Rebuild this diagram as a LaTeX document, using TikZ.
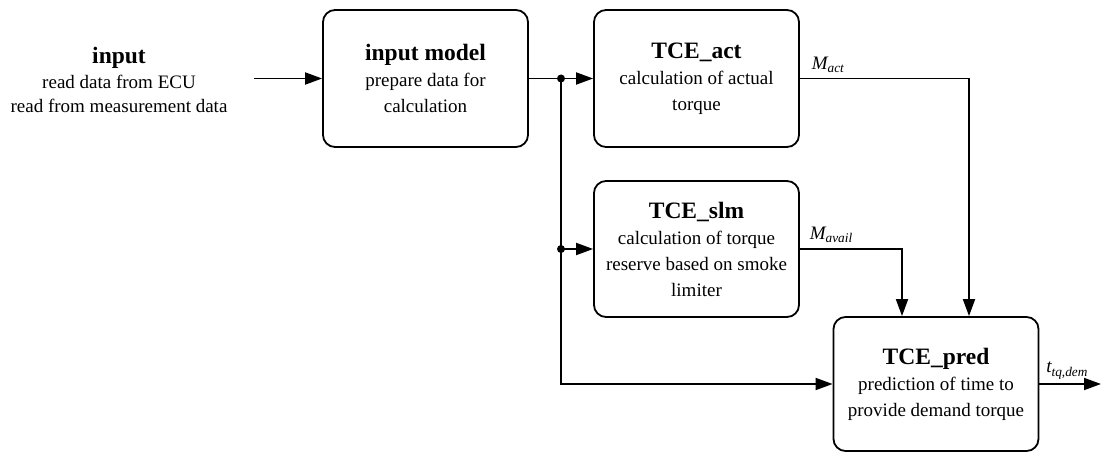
\documentclass[tikz,border=0pt]{standalone}
\usepackage{fontspec}
\setmainfont{Liberation Serif}
\usepackage{tikz}
\usetikzlibrary{arrows.meta,positioning}

\newcommand{\btitle}[1]{{\fontsize{23.5}{26}\selectfont\bfseries #1}}

\begin{document}
\begin{tikzpicture}[x=1pt,y=-1pt,line width=1.8pt,>={Triangle[length=17pt,width=12pt]}]
                \tikzstyle{block}=[draw, rounded corners=12pt, minimum width=205pt, minimum height=137pt, inner sep=0pt, align=center, font=\fontsize{19}{26}\selectfont]
                \tikzstyle{dot}=[circle, fill, inner sep=0pt, minimum size=8pt]
                \tikzstyle{sig}=[inner sep=0pt, font=\fontsize{19}{22}\selectfont\itshape]
                \useasboundingbox (0,0) rectangle (1103,452);
                \node[align=center, inner sep=0pt, font=\fontsize{19}{24.5}\selectfont] (input) at (119,80) {\btitle{input}\\read data from ECU\\read from measurement data};
                \node[block] (inmodel) at (425.5,78.5) {\btitle{input model}\\prepare data for\\calculation};
                \node[block] (act) at (696.5,78.5) {\btitle{TCE\_act}\\calculation of actual\\torque};
                \node[block, minimum height=136pt] (slm) at (696.5,249) {\btitle{TCE\_slm}\\calculation of torque\\reserve based on smoke\\limiter};
                \node[block, minimum height=134pt] (pred) at (936,384) {\btitle{TCE\_pred}\\prediction of time to\\provide demand torque};
                \coordinate (inarr) at (254,78.5);
                \node[dot] (split1) at (561,78.5) {};
                \node[dot] (split2) at (561,249) {};
                \coordinate (out) at (1101,384);
                \draw[->] (inarr) -- (inmodel.west);
                \draw (inmodel.east) -- (split1.center);
                \draw[->] (split1.center) -- (act.west);
                \draw (split1.center) -- (split2.center);
                \draw[->] (split2.center) -- (slm.west);
                \draw[->] (split2.center) |- (pred.west);
                \draw[->] (act.east) -| ([xshift=33pt]pred.north);
                \draw[->] (slm.east) -| ([xshift=-34pt]pred.north);
                \draw[->] (pred.east) -- (out);
                \node[sig, anchor=south west] (mact) at ([xshift=11pt,yshift=5pt]act.east) {M\textsubscript{act}};
                \node[sig, anchor=south west] (mavail) at ([xshift=9pt,yshift=5pt]slm.east) {M\textsubscript{avail}};
                \node[sig, anchor=south west] (ttq) at ([xshift=6pt,yshift=4pt]pred.east) {t\textsubscript{tq,dem}};
            \end{tikzpicture}
\end{document}
